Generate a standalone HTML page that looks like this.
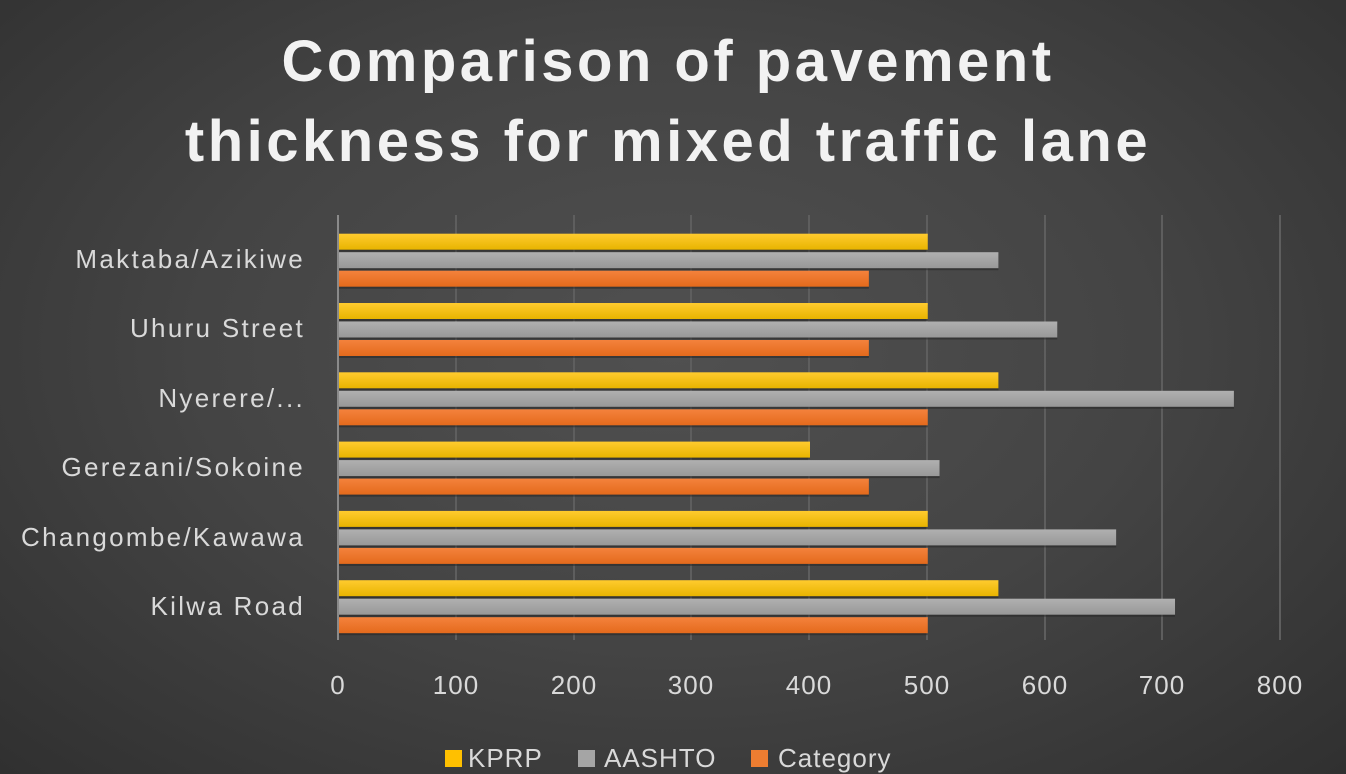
<!DOCTYPE html>
<html><head><style>
body{margin:0;width:1346px;height:774px;overflow:hidden;background:radial-gradient(ellipse at 50% 45%,#505050 0%,#444 50%,#303030 100%);font-family:"Liberation Sans",sans-serif;}
</style></head><body>
<svg width="1346" height="774" xmlns="http://www.w3.org/2000/svg" style="position:absolute;left:0;top:0">
<defs>
<linearGradient id="y" x1="0" y1="0" x2="0" y2="1"><stop offset="0" stop-color="#ffcb2e"/><stop offset="1" stop-color="#e8b400"/></linearGradient>
<linearGradient id="g" x1="0" y1="0" x2="0" y2="1"><stop offset="0" stop-color="#b0b0b0"/><stop offset="1" stop-color="#989898"/></linearGradient>
<linearGradient id="o" x1="0" y1="0" x2="0" y2="1"><stop offset="0" stop-color="#f4823c"/><stop offset="1" stop-color="#e46a1c"/></linearGradient>
</defs>
<g fill="#f2f2f2" font-weight="bold" font-size="58" text-anchor="middle" letter-spacing="3.5">
<text x="668" y="81">Comparison of pavement</text>
<text x="668" y="161">thickness for mixed traffic lane</text>
</g>
<g stroke="#5e5e5e" stroke-width="2">
<line x1="456" y1="215" x2="456" y2="640"/><line x1="574" y1="215" x2="574" y2="640"/><line x1="691" y1="215" x2="691" y2="640"/><line x1="809" y1="215" x2="809" y2="640"/><line x1="927" y1="215" x2="927" y2="640"/><line x1="1045" y1="215" x2="1045" y2="640"/><line x1="1162" y1="215" x2="1162" y2="640"/><line x1="1280" y1="215" x2="1280" y2="640"/>
</g>
<line x1="338" y1="215" x2="338" y2="640" stroke="#8a8a8a" stroke-width="2"/>
<g id="bars"></g>
<g fill="#d9d9d9" font-size="26" text-anchor="end" letter-spacing="2.3">
<text x="305" y="268">Maktaba/Azikiwe</text>
<text x="305" y="337">Uhuru Street</text>
<text x="305" y="407">Nyerere/...</text>
<text x="305" y="476">Gerezani/Sokoine</text>
<text x="305" y="546">Changombe/Kawawa</text>
<text x="305" y="615">Kilwa Road</text>
</g>
<g fill="#d9d9d9" font-size="26" text-anchor="middle" letter-spacing="1">
<text x="338" y="694">0</text><text x="456" y="694">100</text><text x="574" y="694">200</text><text x="691" y="694">300</text><text x="809" y="694">400</text><text x="927" y="694">500</text><text x="1045" y="694">600</text><text x="1162" y="694">700</text><text x="1280" y="694">800</text>
</g>
<g font-size="26" fill="#d9d9d9" letter-spacing="1">
<rect x="445" y="750" width="17" height="17" fill="#ffc000"/><text x="468" y="767">KPRP</text>
<rect x="578" y="750" width="17" height="17" fill="#a5a5a5"/><text x="604" y="767">AASHTO</text>
<rect x="751" y="750" width="17" height="17" fill="#ed7d31"/><text x="778" y="767">Category</text>
</g>
</svg>
<script>
var d=[[500,560,450],[500,610,450],[560,760,500],[400,510,450],[500,660,500],[560,710,500]];
var s="",f=["url(#y)","url(#g)","url(#o)"];
d.forEach(function(r,i){var c=259.7+i*69.3;r.forEach(function(v,j){var y=c-26+j*18.5;s+='<rect x="339" y="'+(y+2)+'" width="'+(v*1.1775)+'" height="16" fill="#222" opacity="0.5"/><rect x="339" y="'+y+'" width="'+(v*1.1775)+'" height="16" fill="'+f[j]+'"/>';});});
document.getElementById("bars").innerHTML=s;
</script>
</body></html>
